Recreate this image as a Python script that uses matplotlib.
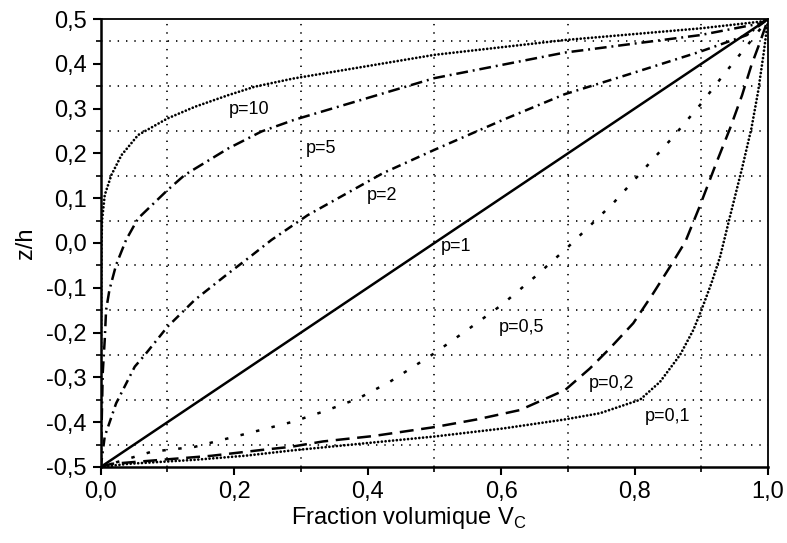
import matplotlib
matplotlib.use("Agg")
from matplotlib import pyplot as plt
from matplotlib.ticker import MultipleLocator

plt.rcParams["font.family"] = ["Liberation Sans", "DejaVu Sans"]
plt.rcParams["lines.scale_dashes"] = False

# curves: volume fraction V_C against z/h
v_p10 = [0.0, 0.0005, 0.001, 0.002, 0.006, 0.016, 0.031, 0.056, 0.1, 0.141, 0.191, 0.231, 0.288,
         0.5, 0.695, 0.898, 0.988, 1.0]
z_p10 = [-0.5, -0.2, -0.004, 0.051, 0.107, 0.152, 0.196, 0.241, 0.278, 0.304, 0.330, 0.349, 0.367,
         0.42, 0.453, 0.479, 0.494, 0.5]

v_p5 = [0.0, 0.0015, 0.003, 0.006, 0.008, 0.013, 0.023, 0.038, 0.056, 0.1, 0.126, 0.191, 0.241, 0.29,
        0.5, 0.695, 0.898, 0.988, 1.0]
z_p5 = [-0.5, -0.395, -0.29, -0.216, -0.15, -0.105, -0.049, 0.007, 0.055, 0.118, 0.152, 0.211, 0.249, 0.275,
        0.368, 0.425, 0.464, 0.49, 0.5]

v_p2 = [0.0, 0.006, 0.023, 0.051, 0.066, 0.1, 0.141, 0.191, 0.221, 0.256, 0.31, 0.423, 0.5,
        0.603, 0.695, 0.788, 0.898, 0.968, 1.0]
z_p2 = [-0.5, -0.432, -0.358, -0.276, -0.25, -0.187, -0.127, -0.068, -0.034, 0.007, 0.062, 0.156, 0.208,
        0.275, 0.332, 0.375, 0.427, 0.464, 0.5]

v_p1 = [0.0, 1.0]
z_p1 = [-0.5, 0.5]

v_p05 = [0.0, 0.076, 0.141, 0.191, 0.241, 0.288, 0.338, 0.386, 0.433, 0.5, 0.553, 0.601,
         0.651, 0.698, 0.768, 0.813, 0.856, 0.898, 0.933, 0.973, 1.0]
z_p05 = [-0.5, -0.466, -0.455, -0.436, -0.417, -0.399, -0.374, -0.347, -0.31, -0.246, -0.19, -0.138,
         -0.075, -0.012, 0.089, 0.163, 0.234, 0.308, 0.375, 0.449, 0.5]

v_p02 = [0.0, 0.016, 0.091, 0.166, 0.241, 0.285, 0.333, 0.408, 0.5, 0.563, 0.628, 0.696, 0.733,
         0.763, 0.798, 0.828, 0.853, 0.876, 0.897, 0.923, 0.943, 0.961, 0.975, 0.988, 1.0]
z_p02 = [-0.5, -0.493, -0.484, -0.475, -0.462, -0.455, -0.443, -0.431, -0.411, -0.394, -0.373, -0.328,
         -0.28, -0.235, -0.179, -0.112, -0.053, 0.003, 0.08, 0.181, 0.256, 0.330, 0.397, 0.449, 0.5]

v_p01 = [0.0, 0.041, 0.141, 0.216, 0.287, 0.383, 0.5, 0.603, 0.695, 0.748, 0.808, 0.838, 0.868,
         0.888, 0.9, 0.915, 0.928, 0.943, 0.961, 0.975, 0.985, 0.993, 1.0]
z_p01 = [-0.5, -0.493, -0.484, -0.475, -0.463, -0.449, -0.432, -0.414, -0.394, -0.38, -0.35, -0.31, -0.25,
         -0.194, -0.15, -0.09, -0.031, 0.06, 0.167, 0.256, 0.338, 0.42, 0.5]

labels = ["p=10", "p=5", "p=2", "p=1", "p=0,5", "p=0,2", "p=0,1"]
label_v = [0.223, 0.33, 0.421, 0.532, 0.631, 0.765, 0.850]
label_z = [0.297, 0.212, 0.107, -0.007, -0.188, -0.313, -0.388]

xticks = [0.0, 0.2, 0.4, 0.6, 0.8, 1.0]
xtick_labels = ["0,0", "0,2", "0,4", "0,6", "0,8", "1,0"]
yticks = [-0.5, -0.4, -0.3, -0.2, -0.1, 0.0, 0.1, 0.2, 0.3, 0.4, 0.5]
ytick_labels = ["-0,5", "-0,4", "-0,3", "-0,2", "-0,1", "0,0", "0,1", "0,2", "0,3", "0,4", "0,5"]

fig = plt.figure(figsize=(7.87, 5.43), dpi=100)
ax = fig.add_axes([0.128, 0.140, 0.848, 0.825])

lw = 1.8
dots = (0, (0.01, 2.7))
ax.plot(v_p10, z_p10, color="black", lw=2.0, linestyle=dots, dash_capstyle="round")
ax.plot(v_p5, z_p5, color="black", lw=lw, linestyle=(0, (8.5, 3.5, 1.4, 3.5)))
ax.plot(v_p2, z_p2, color="black", lw=lw, linestyle=(0, (6.5, 3.5, 1.4, 3.5)))
ax.plot(v_p1, z_p1, color="black", lw=lw, linestyle="-")
ax.plot(v_p05, z_p05, color="black", lw=lw, linestyle=(0, (2.5, 9.0)))
ax.plot(v_p02, z_p02, color="black", lw=lw, linestyle=(0, (10.0, 5.5)))
ax.plot(v_p01, z_p01, color="black", lw=2.0, linestyle=dots, dash_capstyle="round")

for txt, xv, zv in zip(labels, label_v, label_z):
    ax.text(xv, zv, txt, fontsize=13, ha="center", va="center", color="black")

ax.set_xlim(0, 1)
ax.set_ylim(-0.5, 0.5)
ax.set_xticks(xticks)
ax.set_xticklabels(xtick_labels)
ax.set_yticks(yticks)
ax.set_yticklabels(ytick_labels)
ax.xaxis.set_minor_locator(MultipleLocator(0.1))
ax.yaxis.set_minor_locator(MultipleLocator(0.05))
ax.tick_params(which="major", direction="out", length=6, width=1.5, labelsize=17, pad=4)
ax.tick_params(which="minor", direction="out", length=3.5, width=1.2)

# dotted grid only on the minor ticks
ax.grid(which="minor", color="black", linestyle=(0, (1, 5)), linewidth=1.2)
ax.grid(which="major", visible=False)

for side in ["left", "bottom"]:
    ax.spines[side].set_linewidth(1.8)
for side in ["top", "right"]:
    ax.spines[side].set_linewidth(1.3)

ax.set_xlabel("Fraction volumique V$_\\mathregular{C}$", fontsize=17, labelpad=1)
ax.xaxis.set_label_coords(0.462, -0.085)
ax.set_ylabel("z/h", fontsize=17, labelpad=7)

fig.savefig("out.png", dpi=100)
